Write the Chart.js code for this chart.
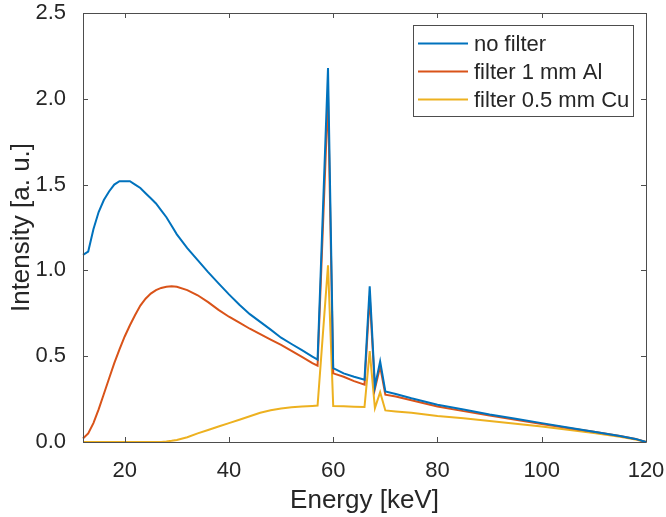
<!DOCTYPE html>
<html>
<head>
<meta charset="utf-8">
<script src="https://cdn.jsdelivr.net/npm/chart.js@4"></script>
<style>
  html, body { margin: 0; padding: 0; background: #fff; }
  canvas { display: block; }
</style>
</head>
<body>
<canvas id="spectrumChart" width="666" height="517"></canvas>
<script>
// Energy grid in keV
const energy = [12, 13, 14, 15, 16, 17, 18, 19, 20, 21, 22, 23, 24, 25, 26, 27, 28, 29, 30, 32, 34, 36,
    38, 40, 42, 44, 46, 48, 50, 52, 54, 56, 57, 59, 60, 62, 64, 66, 67, 68, 69, 70,
    72, 75, 80, 85, 90, 95, 100, 105, 110, 115, 118, 120];

const noFilter = [1.09, 1.11, 1.24, 1.34, 1.41, 1.46, 1.50, 1.52, 1.52, 1.52, 1.50, 1.48, 1.45, 1.42, 1.39, 1.35, 1.31, 1.26, 1.21, 1.13, 1.06, 0.99,
    0.924, 0.86, 0.80, 0.745, 0.70, 0.655, 0.608, 0.571, 0.535, 0.498, 0.48, 2.18, 0.43, 0.40, 0.38, 0.363, 0.907, 0.324, 0.47, 0.295,
    0.28, 0.255, 0.217, 0.19, 0.16, 0.135, 0.11, 0.085, 0.06, 0.035, 0.018, 0.0];

const filterAl = [0.02, 0.05, 0.11, 0.19, 0.28, 0.37, 0.46, 0.54, 0.615, 0.68, 0.74, 0.795, 0.835, 0.865, 0.885, 0.898, 0.905, 0.907, 0.905, 0.885, 0.855, 0.815,
    0.77, 0.73, 0.695, 0.66, 0.628, 0.597, 0.566, 0.531, 0.496, 0.46, 0.445, 2.02, 0.40, 0.38, 0.355, 0.334, 0.85, 0.31, 0.44, 0.276,
    0.265, 0.243, 0.207, 0.18, 0.155, 0.13, 0.105, 0.082, 0.06, 0.035, 0.018, 0.0];

const filterCu = [0, 0, 0, 0, 0, 0, 0, 0, 0, 0, 0, 0, 0, 0, 0, 0, 0.003, 0.007, 0.012, 0.028, 0.05, 0.07,
    0.09, 0.11, 0.13, 0.15, 0.17, 0.185, 0.195, 0.202, 0.207, 0.21, 0.212, 1.03, 0.21, 0.208, 0.206, 0.204, 0.53, 0.198, 0.29, 0.184,
    0.178, 0.17, 0.152, 0.138, 0.122, 0.106, 0.09, 0.072, 0.053, 0.03, 0.015, 0.0];

const seriesNames = ['no filter', 'filter 1 mm Al', 'filter 0.5 mm Cu'];
const seriesColors = ['#0072BD', '#D95319', '#EDB120'];

const xTicks = [20, 40, 60, 80, 100, 120];
const yTicks = [0, 0.5, 1.0, 1.5, 2.0, 2.5];

const FONT = '"Liberation Sans", Arial, Helvetica, sans-serif';
const AXIS_COLOR = '#262626';

function toPoints(values) {
    return energy.map((e, i) => ({ x: e, y: values[i] }));
}

// drop the label overflow padding so layout.padding alone sets the plot box
function noScalePadding(scale) {
    scale.paddingTop = 0;
    scale.paddingBottom = 0;
    scale.paddingLeft = 0;
    scale.paddingRight = 0;
}

// MATLAB style box with inward ticks on all four sides
const boxPlugin = {
    id: 'matlabBox',
    afterDatasetsDraw(chart) {
        const { ctx, chartArea, scales } = chart;
        const { left, right, top, bottom } = chartArea;
        const tick = 5;
        ctx.save();
        ctx.strokeStyle = '#4d4d4d';
        ctx.lineWidth = 1;
        ctx.beginPath();
        ctx.rect(Math.round(left) + 0.5, Math.round(top) + 0.5,
            Math.round(right - left), Math.round(bottom - top));
        ctx.stroke();
        ctx.beginPath();
        xTicks.forEach(v => {
            const px = Math.round(scales.x.getPixelForValue(v)) + 0.5;
            ctx.moveTo(px, bottom);
            ctx.lineTo(px, bottom - tick);
            ctx.moveTo(px, top);
            ctx.lineTo(px, top + tick);
        });
        yTicks.forEach(v => {
            const py = Math.round(scales.y.getPixelForValue(v)) + 0.5;
            ctx.moveTo(left, py);
            ctx.lineTo(left + tick, py);
            ctx.moveTo(right, py);
            ctx.lineTo(right - tick, py);
        });
        ctx.stroke();
        ctx.restore();
    }
};

// Legend drawn in the upper right corner of the axes
const legendPlugin = {
    id: 'insideLegend',
    afterDraw(chart) {
        const { ctx } = chart;
        const box = { x: 413.5, y: 25.5, w: 220, h: 91 };
        const rowY = [43.5, 71.5, 99.5];
        ctx.save();
        ctx.fillStyle = '#fff';
        ctx.fillRect(box.x, box.y, box.w, box.h);
        ctx.strokeStyle = '#4d4d4d';
        ctx.lineWidth = 1;
        ctx.strokeRect(box.x, box.y, box.w, box.h);
        ctx.font = '22px ' + FONT;
        ctx.textBaseline = 'middle';
        ctx.textAlign = 'left';
        chart.data.datasets.forEach((ds, i) => {
            ctx.strokeStyle = ds.borderColor;
            ctx.lineWidth = 2;
            ctx.beginPath();
            ctx.moveTo(418, rowY[i]);
            ctx.lineTo(468, rowY[i]);
            ctx.stroke();
            ctx.fillStyle = AXIS_COLOR;
            ctx.fillText(ds.label, 474, rowY[i] + 1);
        });
        ctx.restore();
    }
};

const datasets = [noFilter, filterAl, filterCu].map((values, i) => ({
    label: seriesNames[i],
    data: toPoints(values),
    borderColor: seriesColors[i],
    backgroundColor: seriesColors[i],
    borderWidth: 2,
    pointRadius: 0,
    tension: 0,
    fill: false,
    clip: false
}));

new Chart(document.getElementById('spectrumChart'), {
    type: 'line',
    data: { datasets: datasets },
    options: {
        responsive: false,
        animation: false,
        devicePixelRatio: 1,
        layout: { padding: { left: 0, right: 20, top: 13, bottom: 0 } },
        plugins: {
            legend: { display: false },
            tooltip: { enabled: false }
        },
        scales: {
            x: {
                type: 'linear',
                min: 12,
                max: 120,
                grid: { display: false },
                border: { display: false },
                afterBuildTicks: scale => { scale.ticks = xTicks.map(v => ({ value: v })); },
                afterFit: scale => { scale.height = 75; noScalePadding(scale); },
                ticks: {
                    color: AXIS_COLOR,
                    font: { family: FONT, size: 22 },
                    padding: 8,
                    maxRotation: 0,
                    autoSkip: false
                },
                title: {
                    display: true,
                    text: 'Energy [keV]',
                    color: AXIS_COLOR,
                    font: { family: FONT, size: 26 },
                    padding: { top: 0, bottom: 1 }
                }
            },
            y: {
                min: 0,
                max: 2.5,
                grid: { display: false },
                border: { display: false },
                afterBuildTicks: scale => { scale.ticks = yTicks.map(v => ({ value: v })); },
                afterFit: scale => { scale.width = 83; noScalePadding(scale); },
                ticks: {
                    color: AXIS_COLOR,
                    font: { family: FONT, size: 22 },
                    padding: 9,
                    autoSkip: false,
                    callback: v => v.toFixed(1)
                },
                title: {
                    display: true,
                    text: 'Intensity [a. u.]',
                    color: AXIS_COLOR,
                    font: { family: FONT, size: 26 },
                    padding: { top: 6, bottom: 0 }
                }
            }
        }
    },
    plugins: [boxPlugin, legendPlugin]
});
</script>
</body>
</html>
